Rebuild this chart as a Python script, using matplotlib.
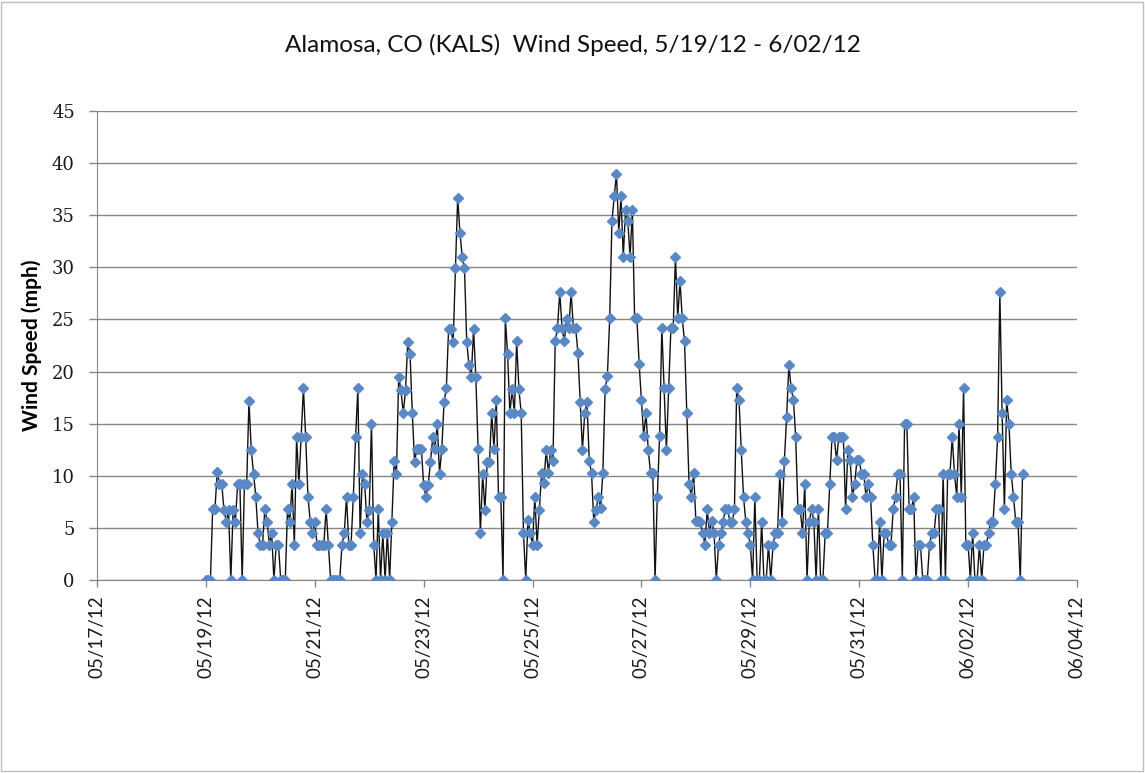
import matplotlib
matplotlib.use("Agg")
import matplotlib.pyplot as plt
import matplotlib.dates as mdates
import pandas as pd
from matplotlib.patches import Rectangle

plt.rcParams['font.family'] = ['Lato', 'DejaVu Sans']

# Hourly wind speed (mph), one list per day starting 2012-05-19 00:00
day_0519 = [0, 0, 0, 6.8, 6.8, 10.4, 9.2, 9.2, 6.7, 5.6, 6.7, 0, 6.7, 5.6, 9.2, 9.2, 0, 9.2, 9.2, 17.2, 12.5, 10.2, 8.0, 4.5]
day_0520 = [3.4, 3.4, 6.8, 5.6, 3.4, 4.5, 0, 3.4, 3.4, 0, 0, 0, 6.8, 5.6, 9.2, 3.4, 13.7, 9.2, 13.7, 18.4, 13.7, 8.0, 5.6, 4.5]
day_0521 = [5.6, 3.4, 3.4, 3.4, 3.4, 6.8, 3.4, 0, 0, 0, 0, 0, 3.4, 4.5, 8.0, 3.4, 3.4, 8.0, 13.7, 18.4, 4.5, 10.2, 9.2, 5.6]
day_0522 = [6.7, 15.0, 3.4, 0, 6.8, 0, 4.5, 0, 4.5, 0, 5.6, 11.4, 10.2, 19.5, 18.2, 16.0, 18.2, 22.8, 21.7, 16.0, 11.3, 12.6, 12.6, 12.6]
day_0523 = [9.1, 8.0, 9.1, 11.3, 13.7, 12.6, 15.0, 10.2, 12.6, 17.1, 18.4, 24.1, 24.1, 22.8, 29.9, 36.7, 33.3, 31.0, 29.9, 22.8, 20.6, 19.5, 24.1, 19.5]
day_0524 = [12.6, 4.5, 10.2, 6.7, 11.3, 11.3, 16.0, 12.6, 17.3, 8.0, 8.0, 0, 25.1, 21.7, 16.0, 18.3, 16.0, 22.9, 18.3, 16.0, 4.5, 0, 5.8, 4.5]
day_0525 = [3.4, 8.0, 3.4, 6.7, 10.3, 9.3, 12.5, 10.3, 12.5, 11.4, 22.9, 24.2, 27.6, 24.2, 22.9, 25.0, 24.2, 27.6, 24.2, 24.2, 21.8, 17.1, 12.5, 16.0]
day_0526 = [17.1, 11.4, 10.3, 5.6, 6.7, 8.0, 6.9, 10.3, 18.3, 19.6, 25.1, 34.4, 36.8, 39.0, 33.3, 36.8, 31.0, 35.5, 34.4, 31.0, 35.5, 25.1, 25.1, 20.7]
day_0527 = [17.3, 13.8, 16.0, 12.5, 10.3, 10.3, 0, 8.0, 13.8, 24.2, 18.4, 12.5, 18.4, 24.2, 24.2, 31.0, 25.1, 28.7, 25.1, 22.9, 16.0, 9.2, 8.0, 10.3]
day_0528 = [5.7, 5.7, 5.6, 4.5, 3.4, 6.8, 4.5, 5.7, 4.5, 0, 3.4, 4.5, 5.6, 6.8, 6.8, 5.6, 5.6, 6.8, 18.4, 17.3, 12.5, 8.0, 5.6, 4.5]
day_0529 = [3.4, 0, 8.0, 0, 0, 5.6, 0, 0, 3.4, 0, 3.4, 4.5, 4.5, 10.2, 5.6, 11.4, 15.6, 20.6, 18.4, 17.3, 13.7, 6.8, 6.8, 4.5]
day_0530 = [9.2, 0, 5.6, 6.8, 5.6, 0, 6.8, 0, 0, 4.5, 4.5, 9.2, 13.7, 13.7, 11.5, 13.7, 13.7, 13.7, 6.8, 12.5, 11.5, 8.0, 9.2, 11.5]
day_0531 = [11.5, 10.2, 10.2, 8.0, 9.2, 8.0, 3.4, 0, 0, 5.6, 0, 4.5, 4.5, 3.4, 3.4, 6.8, 8.0, 10.2, 10.2, 0, 15.0, 15.0, 6.8, 6.8]
day_0601 = [8.0, 0, 3.4, 3.4, 0, 0, 0, 3.4, 4.5, 4.5, 6.8, 6.8, 0, 10.2, 0, 10.2, 10.2, 13.7, 10.2, 8.0, 15.0, 8.0, 18.4, 3.4]
day_0602 = [3.4, 0, 4.5, 0, 0, 3.4, 0, 3.4, 3.4, 4.5, 5.6, 5.6, 9.2, 13.7, 27.6, 16.0, 6.8, 17.3, 15.0, 10.2, 8.0, 5.6, 5.6, 0]
day_0603 = [10.2]

wind_mph = (day_0519 + day_0520 + day_0521 + day_0522 + day_0523 + day_0524 + day_0525 +
            day_0526 + day_0527 + day_0528 + day_0529 + day_0530 + day_0531 + day_0601 +
            day_0602 + day_0603)
times = pd.date_range('2012-05-19 00:00', periods=len(wind_mph), freq='h')

title = "Alamosa, CO (KALS)  Wind Speed, 5/19/12 - 6/02/12"
ylabel = "Wind Speed (mph)"
y_ticks = list(range(0, 50, 5))
x_start, x_end = pd.Timestamp('2012-05-17'), pd.Timestamp('2012-06-04')

fig = plt.figure(figsize=(11.45, 7.73), dpi=100)
ax = fig.add_axes([0.0847, 0.2497, 0.8559, 0.6067])

ax.plot(times, wind_mph, color='#111111', linewidth=1.0, zorder=2)
ax.plot(times, wind_mph, linestyle='none', marker='D', markersize=4.8,
        markerfacecolor='#5A88C4', markeredgecolor='#5A88C4', zorder=3)

ax.set_xlim(x_start, x_end)
ax.set_ylim(0, 45)
ax.set_yticks(y_ticks)
ax.yaxis.grid(True, color='#868686', linewidth=1.0)
ax.set_axisbelow(True)

ax.set_xticks(pd.date_range(x_start, x_end, freq='2D'))
ax.xaxis.set_major_formatter(mdates.DateFormatter('%m/%d/%y'))
plt.setp(ax.get_xticklabels(), rotation=90)

ax.tick_params(axis='x', direction='out', length=5, width=1, color='#868686',
               labelsize=13.5, pad=6, labelcolor='#1a1a1a')
ax.tick_params(axis='y', direction='out', length=6, width=1, color='#868686',
               labelsize=13, pad=10, labelcolor='#1a1a1a')
for lbl in ax.get_yticklabels():
    lbl.set_family('DejaVu Serif')

for s in ['top', 'right']:
    ax.spines[s].set_visible(False)
ax.spines['left'].set_color('#868686')
ax.spines['bottom'].set_color('#868686')

ax.set_ylabel(ylabel, fontsize=15, fontweight='bold', labelpad=7)
fig.text(0.5, 0.942, title, ha='center', va='center', fontsize=17.5, color='#111111')

fig.patches.append(Rectangle((0.001, 0.003), 0.997, 0.994, transform=fig.transFigure,
                             fill=False, edgecolor='#BFBFBF', linewidth=1.0))

fig.savefig('out.png', dpi=100)
